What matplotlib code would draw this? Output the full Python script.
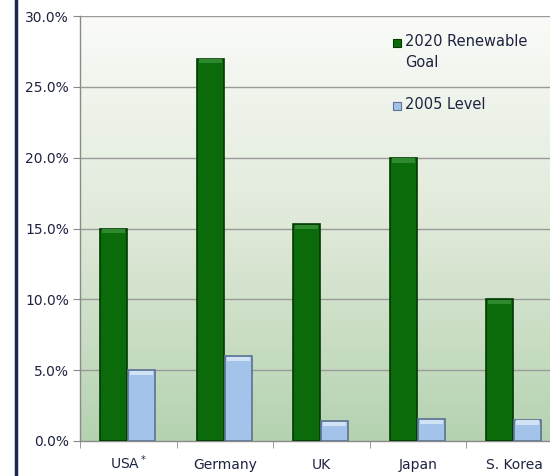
import matplotlib.pyplot as plt
import numpy as np
from matplotlib.colors import LinearSegmentedColormap
from matplotlib.lines import Line2D
from matplotlib.patches import Rectangle

countries = ["USA$^*$", "Germany", "UK", "Japan", "S. Korea"]
goal_2020 = [15.0, 27.0, 15.3, 20.0, 10.0]
level_2005 = [5.0, 6.0, 1.4, 1.55, 1.5]

GREEN = "#0b6b0b"
GREEN_EDGE = "#033a03"
BLUE = "#a4c3ea"
BLUE_EDGE = "#5b7394"
TEXT = "#1e2340"

W, H = 550, 476
fig = plt.figure(figsize=(W / 100, H / 100), dpi=100)
fig.patch.set_facecolor("white")

# axes box in pixel terms; right side runs past the figure edge
left_px, right_px, top_px, bottom_px = 80, 562.5, 16, 441
ax = fig.add_axes([left_px / W, 1 - bottom_px / H,
                   (right_px - left_px) / W, (bottom_px - top_px) / H])

x = np.arange(len(countries))
ax.set_xlim(-0.5, len(countries) - 0.5)
ax.set_ylim(0, 30)

# soft white-to-green gradient behind the bars
grad = LinearSegmentedColormap.from_list("bg", ["#b4d2b0", "#dfe9d8", "#fafbf8"])
ax.imshow(np.linspace(0, 1, 256).reshape(-1, 1), cmap=grad, aspect="auto",
          extent=[-0.5, len(countries) - 0.5, 0, 30], origin="lower", zorder=0)

for yv in np.arange(5, 31, 5):
    ax.axhline(yv, color="#9a9a9a", lw=1.0, zorder=1)

bw = 0.28
ax.bar(x - 0.29, goal_2020, width=bw, align="edge", color=GREEN,
       edgecolor=GREEN_EDGE, linewidth=1.2, zorder=3)
ax.bar(x + 0.0, level_2005, width=bw, align="edge", color=BLUE,
       edgecolor=BLUE_EDGE, linewidth=1.2, zorder=3)

# light bevel along the top of each bar
for xi, g, l in zip(x, goal_2020, level_2005):
    ax.add_patch(Rectangle((xi - 0.27, g - 0.35), bw - 0.04, 0.3,
                           color="#2f8a2f", lw=0, zorder=4))
    ax.add_patch(Rectangle((xi + 0.02, l - 0.35), bw - 0.04, 0.3,
                           color="#d3e3f6", lw=0, zorder=4))

ax.set_yticks(np.arange(0, 31, 5))
ax.set_yticklabels([f"{v:.1f}%" for v in np.arange(0, 31, 5)],
                   fontsize=10, color=TEXT)
ax.set_xticks(x)
ax.set_xticklabels(countries, fontsize=10, color=TEXT, va="baseline")
ax.set_xticks(np.arange(-0.5, len(countries), 1), minor=True)
ax.tick_params(axis="x", which="major", length=0, pad=20.5)
ax.tick_params(axis="x", which="minor", length=5, color="#8a8a8a", direction="out")
ax.tick_params(axis="y", length=5, color="#8a8a8a", direction="out", pad=3)

for side in ("top", "right"):
    ax.spines[side].set_visible(False)
for side in ("left", "bottom"):
    ax.spines[side].set_color("#8a8a8a")
    ax.spines[side].set_linewidth(1.0)

# legend drawn as swatches with text, upper right
legend_items = [("2020 Renewable\nGoal", GREEN, GREEN_EDGE, 43),
                ("2005 Level", BLUE, BLUE_EDGE, 106)]
for label, fc, ec, ypx in legend_items:
    fig.add_artist(Rectangle((393 / W, 1 - (ypx + 4) / H), 8 / W, 8 / H,
                             transform=fig.transFigure, facecolor=fc,
                             edgecolor=ec, lw=0.8))
    fig.text(405 / W, 1 - (ypx - 8.5) / H, label, fontsize=10.5, color=TEXT,
             va="top", ha="left", linespacing=1.45)

# dark frame line at the left edge
fig.add_artist(Line2D([16 / W, 16 / W], [0, 1], transform=fig.transFigure,
                      color="#1a2a4e", lw=2.5))

fig.savefig("out.png", dpi=100)
